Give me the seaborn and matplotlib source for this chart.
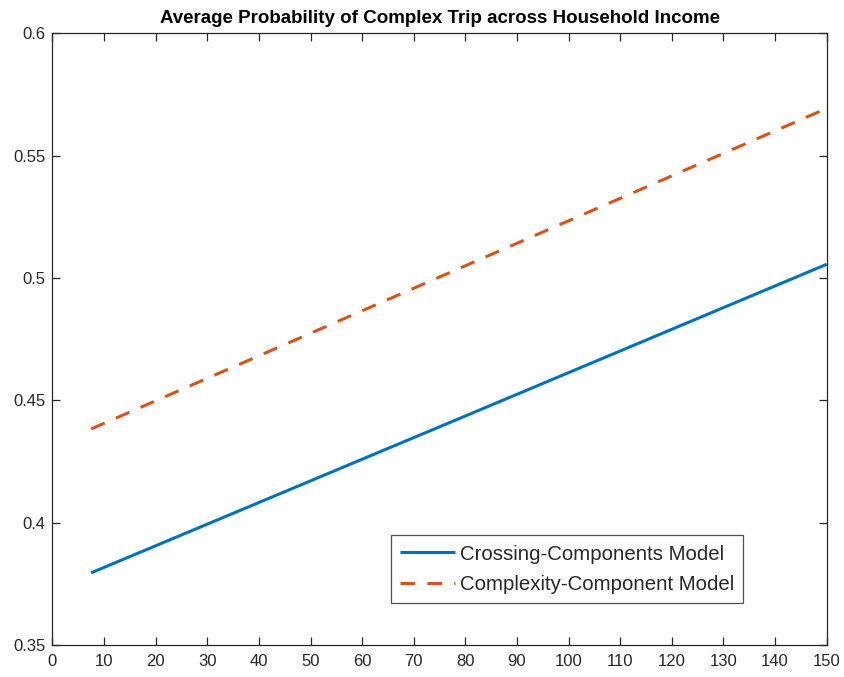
import matplotlib
matplotlib.use("Agg")
import matplotlib.pyplot as plt
import pandas as pd
import seaborn as sns

# Household income (x) and average probability of a complex trip for each model
income = [7.5, 80, 150]
crossing_components = [0.3795, 0.4436, 0.5056]
complexity_component = [0.4383, 0.5050, 0.5693]
model_names = ["Crossing-Components Model", "Complexity-Component Model"]

df = pd.DataFrame({
    "income": income * 2,
    "prob": crossing_components + complexity_component,
    "model": [model_names[0]] * len(income) + [model_names[1]] * len(income),
})

sns.set_theme(style="ticks")
plt.rcParams["font.family"] = ["Liberation Sans", "DejaVu Sans"]
axis_color = "#262626"

fig = plt.figure(figsize=(8.44, 6.77), dpi=100)
ax = fig.add_axes([0.0622, 0.0473, 0.9173, 0.9035])

sns.lineplot(
    data=df, x="income", y="prob", hue="model", style="model",
    palette=["#0072BD", "#D95319"],
    dashes=[(1, 0), (4.8, 4.0)],
    linewidth=2.2, ax=ax, legend=True,
)
for line in ax.get_lines():
    line.set_dash_capstyle("butt")

ax.set_xlim(0, 150)
ax.set_ylim(0.35, 0.6)
ax.set_xticks(range(0, 151, 10))
ax.set_yticks([0.35, 0.4, 0.45, 0.5, 0.55, 0.6])
ax.set_yticklabels(["0.35", "0.4", "0.45", "0.5", "0.55", "0.6"])
ax.set_xlabel("")
ax.set_ylabel("")
ax.set_title("Average Probability of Complex Trip across Household Income",
             fontsize=13.5, fontweight="bold", color="black", pad=7.5)

for s in ax.spines.values():
    s.set_visible(True)
    s.set_color(axis_color)
    s.set_linewidth(0.9)
ax.tick_params(direction="in", length=6, width=0.9, color=axis_color,
               labelcolor=axis_color, labelsize=12,
               top=True, right=True)
ax.tick_params(axis="x", pad=6.5)
ax.tick_params(axis="y", pad=5)

leg = ax.legend(loc="lower left", bbox_to_anchor=(0.4368, 0.0687),
                fontsize=14.7, frameon=True, fancybox=False,
                handlelength=2.68, handletextpad=0.25, borderpad=0.45,
                labelspacing=0.55, borderaxespad=0)
leg.get_frame().set_edgecolor(axis_color)
leg.get_frame().set_linewidth(0.9)

fig.savefig("out.png", dpi=100)
